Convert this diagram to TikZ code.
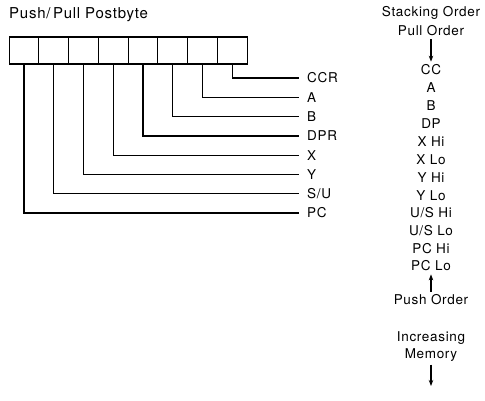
\documentclass[tikz,border=0pt]{standalone}
\usepackage{fontspec}
\setmainfont{TeX Gyre Heros}[LetterSpace=5]
\usetikzlibrary{arrows.meta}

\begin{document}
\begin{tikzpicture}[x=1pt,y=-1pt,
    bitbox/.style={draw, line width=1.2pt, minimum width=29.75pt, minimum height=27pt, inner sep=0pt},
    reglabel/.style={anchor=west, inner xsep=8pt, font=\fontsize{13.5}{15}\selectfont},
    stacktext/.style={font=\fontsize{13.5}{15}\selectfont, inner sep=1pt},
    wire/.style={line width=1.2pt},
    orderarrow/.style={line width=1.1pt, shorten <=2pt, shorten >=2pt, -{Stealth[length=6pt,width=4.5pt]}}]
        \useasboundingbox (0,0) rectangle (485,400);

        % postbyte title
        \node[anchor=west, inner sep=0pt, font=\fontsize{15}{17}\selectfont] (title) at (9,15) {Push/\,Pull Postbyte};

        % the eight bits of the postbyte
        \node[bitbox] (b7) at (24,50.5) {};
        \node[bitbox] (b6) at (53.75,50.5) {};
        \node[bitbox] (b5) at (83.5,50.5) {};
        \node[bitbox] (b4) at (113.25,50.5) {};
        \node[bitbox] (b3) at (143,50.5) {};
        \node[bitbox] (b2) at (172.75,50.5) {};
        \node[bitbox] (b1) at (202.5,50.5) {};
        \node[bitbox] (b0) at (232.25,50.5) {};

        % register names
        \node[reglabel] (ccr) at (299,78) {CCR};
        \node[reglabel] (a) at (299,97.3) {A};
        \node[reglabel] (b) at (299,116.6) {B};
        \node[reglabel] (dpr) at (299,135.9) {DPR};
        \node[reglabel] (x) at (299,155.1) {X};
        \node[reglabel] (y) at (299,174.4) {Y};
        \node[reglabel] (su) at (299,193.7) {S/U};
        \node[reglabel] (pc) at (299,213) {PC};

        \draw[wire] (b0.south) |- (ccr.west);
        \draw[wire] (b1.south) |- (a.west);
        \draw[wire] (b2.south) |- (b.west);
        \draw[wire] (b3.south) |- (dpr.west);
        \draw[wire] (b4.south) |- (x.west);
        \draw[wire] (b5.south) |- (y.west);
        \draw[wire] (b6.south) |- (su.west);
        \draw[wire] (b7.south) |- (pc.west);

        % stacking order column
        \node[stacktext] (stacking) at (431,13) {Stacking Order};
        \node[stacktext] (pull) at (431,31) {Pull Order};
        \node[stacktext] (cc) at (431,70) {CC};
        \node[stacktext] (sa) at (431,88) {A};
        \node[stacktext] (sb) at (431,106) {B};
        \node[stacktext] (dp) at (431,124) {DP};
        \node[stacktext] (xhi) at (431,142) {X Hi};
        \node[stacktext] (xlo) at (431,160) {X Lo};
        \node[stacktext] (yhi) at (431,178) {Y Hi};
        \node[stacktext] (ylo) at (431,196) {Y Lo};
        \node[stacktext] (ushi) at (431,213) {U/S Hi};
        \node[stacktext] (uslo) at (431,231) {U/S Lo};
        \node[stacktext] (pchi) at (431,249) {PC Hi};
        \node[stacktext] (pclo) at (431,266) {PC Lo};
        \node[stacktext] (push) at (431,300) {Push Order};
        \node[stacktext] (incr) at (431,338) {Increasing};
        \node[stacktext] (mem) at (431,355) {Memory};
        \coordinate (memend) at (431,388);

        \draw[orderarrow] (pull) -- (cc);
        \draw[orderarrow] (push) -- (pclo);
        \draw[orderarrow] (mem) -- (memend);
    \end{tikzpicture}
\end{document}
